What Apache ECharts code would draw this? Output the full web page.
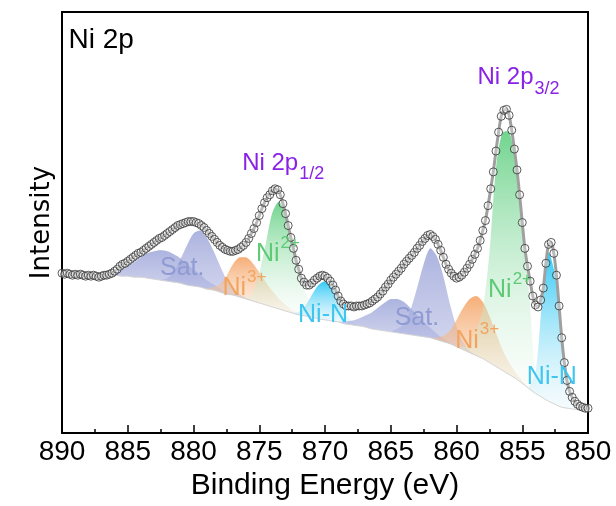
<!DOCTYPE html>
<html><head><meta charset="utf-8">
<script src="https://cdn.jsdelivr.net/npm/echarts@6/dist/echarts.min.js"></script>
<style>html,body{margin:0;padding:0;background:#fff}#c{width:616px;height:506px}</style>
</head><body><div id="c"></div>
<script>
// ---- experimental spectrum: 890 -> 850 eV, 0.2 eV step ----
const eStart = 890, eStep = 0.2;
const counts = [
 161,160,161,160,159,160,159,160,159,158,159,
 158,159,158,157,158,159,159,160,161,163,
 165,168,170,171,173,175,177,179,181,182,
 184,186,188,190,192,194,196,197,199,201,
 203,205,207,209,210,211,212,213,213,213,
 212,211,209,207,204,201,198,195,192,189,
 187,185,184,183,183,184,185,187,189,192,
 196,201,206,212,219,226,232,237,240,244,
 246,245,240,231,221,209,197,186,174,165,
 156,152,149,149,151,154,156,158,159,158,
 156,153,149,144,138,133,130,128,128,128,
 127,128,128,128,129,130,131,133,135,137,
 140,143,147,150,154,157,160,163,166,170,
 173,176,179,182,186,189,193,196,199,200,
 198,195,190,184,177,170,165,161,158,156,
 157,159,162,166,170,175,180,186,194,204,
 214,229,246,263,284,303,319,325,326,320,
 305,286,265,240,212,186,168,153,138,129,
 127,134,146,171,190,192,181,159,128,96,
 71,53,42,36,32,29,27,26,25,25
];
// ---- Shirley background: 890 -> 850 eV, 0.5 eV step ----
const bgStart = 890, bgStep = 0.5;
const background = [
 161,161,160,160,160,160,159,159,159,158,158,157,157,156,155,154,153,152,151,149,
 148,147,145,144,142,140,139,137,135,133,131,129,127,125,123,121,119,118,117,115,
 114,113,112,110,109,108,107,105,104,103,102,101,100,99,98,97,96,94,92,90,
 87,84,81,78,75,71,67,63,59,55,50,45,40,36,32,29,26,25,24,24,23
];
// ---- fitted components: heights above background, 0.5 eV step from start ----
const compStep = 0.5;
const satA_start = 887,   satA = [0,1,3,6,10,15,20,25,28,30,30,28,25,21,17,13,9,6,4,2,1,0];
const satB_start = 882.5, satB = [0,3,10,24,40,53,57,52,40,27,15,7,3,1,0];
const ni3A_start = 879,   ni3A = [0,3,8,18,31,40,42,38,31,23,16,10,6,3,1,0];
const ni2A_start = 876,   ni2A = [0,8,30,62,95,108,98,72,45,24,11,5,2,0];
const niNA_start = 872.5, niNA = [0,3,10,22,34,39,34,22,11,4,1,0];
const satC_start = 869,   satC = [0,2,4,7,11,16,22,28,33,34,32,27,21,15,10,6,3,1,0];
const satD_start = 865,   satD = [0,4,10,25,48,73,90,84,66,40,20,8,2,0];
const ni3B_start = 862,   ni3B = [0,2,6,13,27,42,54,60,57,47,34,21,12,6,3,1,0];
const ni2B_start = 860,   ni2B = [0,3,10,25,50,110,200,240,245,215,165,100,20,3,0];
const niNB_start = 854.5, niNB = [0,20,95,150,130,70,18,3,0];
// ---- axis ----
const xMin = 850, xMax = 890, xInterval = 5;

const FONT = '"Liberation Sans", Arial, Helvetica, sans-serif';
const grad = (c1, c2) => ({type:'linear', x:0, y:0, x2:0, y2:1, global:false,
  colorStops:[{offset:0,color:c1},{offset:1,color:c2}]});
const styles = {
  sat: ['rgba(140,150,210,0.72)','rgba(178,184,226,0.55)'],
  ni3: ['rgba(244,160,96,0.85)','rgba(250,222,196,0.30)'],
  ni2: ['rgba(88,205,122,0.85)','rgba(242,250,244,0.20)'],
  niN: ['rgba(34,198,245,0.92)','rgba(228,244,250,0.35)']
};
const comps = [
  [satA_start, satA, 'sat'], [satB_start, satB, 'sat'],
  [ni3A_start, ni3A, 'ni3'], [ni2A_start, ni2A, 'ni2'], [niNA_start, niNA, 'niN'],
  [satC_start, satC, 'sat'], [satD_start, satD, 'sat'],
  [ni3B_start, ni3B, 'ni3'], [ni2B_start, ni2B, 'ni2'], [niNB_start, niNB, 'niN']
].map(([start, h, kind]) => {
  const i0 = Math.round((bgStart - start) / bgStep);
  return {start, h, kind,
    xs: h.map((_, k) => start - k * compStep),
    base: background.slice(i0, i0 + h.length)};
});

const bgData = background.map((v,k)=>[bgStart - k*bgStep, v]);
const expData = counts.map((v,k)=>[+(eStart - k*eStep).toFixed(2), v]);

const series = [
  {type:'custom', coordinateSystem:'cartesian2d', clip:true, silent:true, z:2,
   data: comps.map((c,i)=>[c.start, 0, i]), encode:{x:0, y:1},
   renderItem: (params, api) => {
     const c = comps[params.dataIndex];
     const top = c.xs.map((x,k)=>api.coord([x, c.base[k] + c.h[k]]));
     const bot = [];
     for (let k = c.xs.length - 2; k >= 1; k--) bot.push(api.coord([c.xs[k], c.base[k]]));
     const pts = top.concat(bot);
     const mn = [Infinity, Infinity], mx = [-Infinity, -Infinity];
     pts.forEach(p => { mn[0]=Math.min(mn[0],p[0]); mn[1]=Math.min(mn[1],p[1]); mx[0]=Math.max(mx[0],p[0]); mx[1]=Math.max(mx[1],p[1]); });
     const [c1, c2] = styles[c.kind];
     return {type:'polygon', shape:{points: pts, smooth:0.3, smoothConstraint:[mn, mx]},
       style:{fill: grad(c1, c2), stroke:null}};
   }},
  {type:'line', data:bgData, symbol:'none', smooth:0.3, lineStyle:{color:'#d4d4d4', width:1}, silent:true, z:3},
  {type:'line', data:expData, symbol:'none', smooth:0.3, lineStyle:{color:'#a0a0a0', width:3}, silent:true, z:4},
  {type:'scatter', data:expData, symbol:'circle', symbolSize:8,
   itemStyle:{color:'rgba(255,255,255,0.35)', borderColor:'#333', borderWidth:1}, silent:true, z:5}
];

const chart = echarts.init(document.getElementById('c'), null, {renderer:'canvas'});
chart.setOption({
  backgroundColor:'#fff',
  animation:false,
  grid:{left:62, right:28, top:12, bottom:70, show:true, borderColor:'#000', borderWidth:2, backgroundColor:'transparent', containLabel:false},
  xAxis:{type:'value', min:xMin, max:xMax, interval:xInterval, inverse:true,
    axisLine:{show:true, lineStyle:{color:'#000', width:2}},
    axisTick:{show:true, inside:true, length:8, lineStyle:{color:'#000', width:1.5}},
    minorTick:{show:true, splitNumber:2, length:4, lineStyle:{color:'#000', width:1.5}},
    splitLine:{show:false},
    axisLabel:{color:'#000', fontSize:28, fontFamily:FONT, margin:5},
    name:'Binding Energy (eV)', nameLocation:'middle', nameGap:34,
    nameTextStyle:{color:'#000', fontSize:30, fontFamily:FONT}},
  yAxis:{type:'value', min:0, max:424,
    axisLine:{show:true, lineStyle:{color:'#000', width:2}},
    axisTick:{show:false}, axisLabel:{show:false}, splitLine:{show:false},
    name:'Intensity', nameLocation:'middle', nameGap:7,
    nameTextStyle:{color:'#000', fontSize:26, fontFamily:'"DejaVu Sans", sans-serif'}},
  series
});

// ---- annotations (data coordinates) ----
const SAT='#8f9bd2', N3='#f2a45f', N2='#5fca76', NN='#3ec5f0', PUR='#8a22e6';
const labels = [
  {t:'Sat.', E:882.55, I:166, c:SAT},
  {t:'Ni', sup:'3+', E:877.8, I:146, c:N3},
  {t:'Ni', sup:'2+', E:875.25, I:180, c:N2},
  {t:'Ni-N', E:872.05, I:119, c:NN},
  {t:'Sat.', E:864.7, I:116, c:SAT},
  {t:'Ni', sup:'3+', E:860.1, I:93, c:N3},
  {t:'Ni', sup:'2+', E:857.6, I:144, c:N2},
  {t:'Ni-N', E:854.65, I:56, c:NN},
  {t:'Ni 2p', sub:'1/2', E:876.3, I:272, c:PUR, size:24},
  {t:'Ni 2p', sub:'3/2', E:858.4, I:358, c:PUR, size:24},
  {t:'Ni 2p', E:889.5, I:396, c:'#000', size:28}
];
const ctx = document.createElement('canvas').getContext('2d');
const graphics = [];
labels.forEach(L => {
  const size = L.size || 25;
  const [px, py] = chart.convertToPixel({gridIndex:0}, [L.E, L.I]);
  ctx.font = size + 'px ' + FONT;
  const w = ctx.measureText(L.t).width;
  graphics.push({type:'text', x:px, y:py, z:100, style:{text:L.t, fill:L.c, font: size+'px '+FONT, textAlign:'left', textVerticalAlign:'middle'}});
  if (L.sup) graphics.push({type:'text', x:px + w + 1, y:py - 11, z:100, style:{text:L.sup, fill:L.c, font:'17px '+FONT, textAlign:'left', textVerticalAlign:'middle'}});
  if (L.sub) graphics.push({type:'text', x:px + w + 1, y:py + 11, z:100, style:{text:L.sub, fill:L.c, font:'18px '+FONT, textAlign:'left', textVerticalAlign:'middle'}});
});
chart.setOption({graphic: graphics});
</script>
</body></html>
